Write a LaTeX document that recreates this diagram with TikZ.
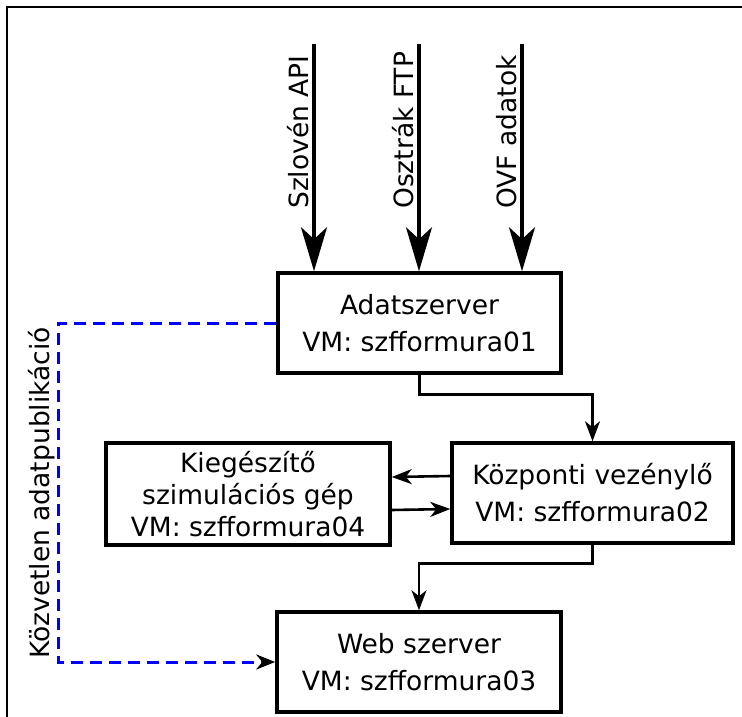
\documentclass[tikz,border=0pt]{standalone}
\usepackage{fontspec}
\setmainfont{DejaVu Sans}
\usetikzlibrary{positioning,calc,arrows.meta}

\begin{document}
\begin{tikzpicture}[x=1pt,y=-1pt,
  box/.style={draw,line width=3.5pt,minimum width=283pt,minimum height=100pt,align=center,inner sep=0pt,font=\fontsize{26.5}{37}\selectfont},
  link/.style={line width=2.6pt,-{Stealth[length=20pt,width=15pt,inset=6pt]}},
  feed/.style={line width=3.6pt,-{Stealth[length=44pt,width=26pt,inset=12pt]}},
  pub/.style={blue,line width=3pt,dash pattern=on 12pt off 7pt,-{Stealth[black,length=19pt,width=15pt,inset=6pt]}},
  lbl/.style={rotate=90,inner sep=0pt,font=\fontsize{26.5}{30}\selectfont}]
\useasboundingbox (0,0) rectangle (742,717);
\draw[line width=2pt] (7,717) -- (7,7) -- (742,7);

\node[box] (adat) at (419.5,323) {Adatszerver\\VM: szfformura01};
\node[box,minimum width=281pt] (kozp) at (592.5,493) {Központi vezénylő\\VM: szfformura02};
\node[box,minimum width=284pt,minimum height=102pt,font=\fontsize{26.5}{32}\selectfont] (kieg) at (248,494) {Kiegészítő\\szimulációs gép\\VM: szfformura04};
\node[box,minimum width=284pt] (web) at (419,662) {Web szerver\\VM: szfformura03};

% bejovo adatok
\coordinate (in1) at (314,44);
\coordinate (in2) at (419,44);
\coordinate (in3) at (522,44);
\draw[feed] (in1) -- (in1 |- adat.north);
\draw[feed] (in2) -- (in2 |- adat.north);
\draw[feed] (in3) -- (in3 |- adat.north);
\node[lbl,anchor=base west] (lbl1) at (308,209) {Szlovén API};
\node[lbl,anchor=base west] (lbl2) at (413,209) {Osztrák FTP};
\node[lbl,anchor=base west] (lbl3) at (516,209) {OVF adatok};

\draw[link] (adat.south) -- ++(0,20) -| (kozp.north);
\draw[link] ([yshift=17pt]kozp.west) -- ([yshift=17pt]kieg.east);
\draw[link] ([yshift=-16pt]kieg.east) -- ([yshift=-16pt]kozp.west);
\draw[link] (kozp.south) -- ++(0,19) -| (web.north);

\draw[pub] (adat.west) -- ++(-218,0) |- (web.west);
\node[lbl,anchor=base] (publbl) at (49,493) {Közvetlen adatpublikáció};
\end{tikzpicture}
\end{document}
